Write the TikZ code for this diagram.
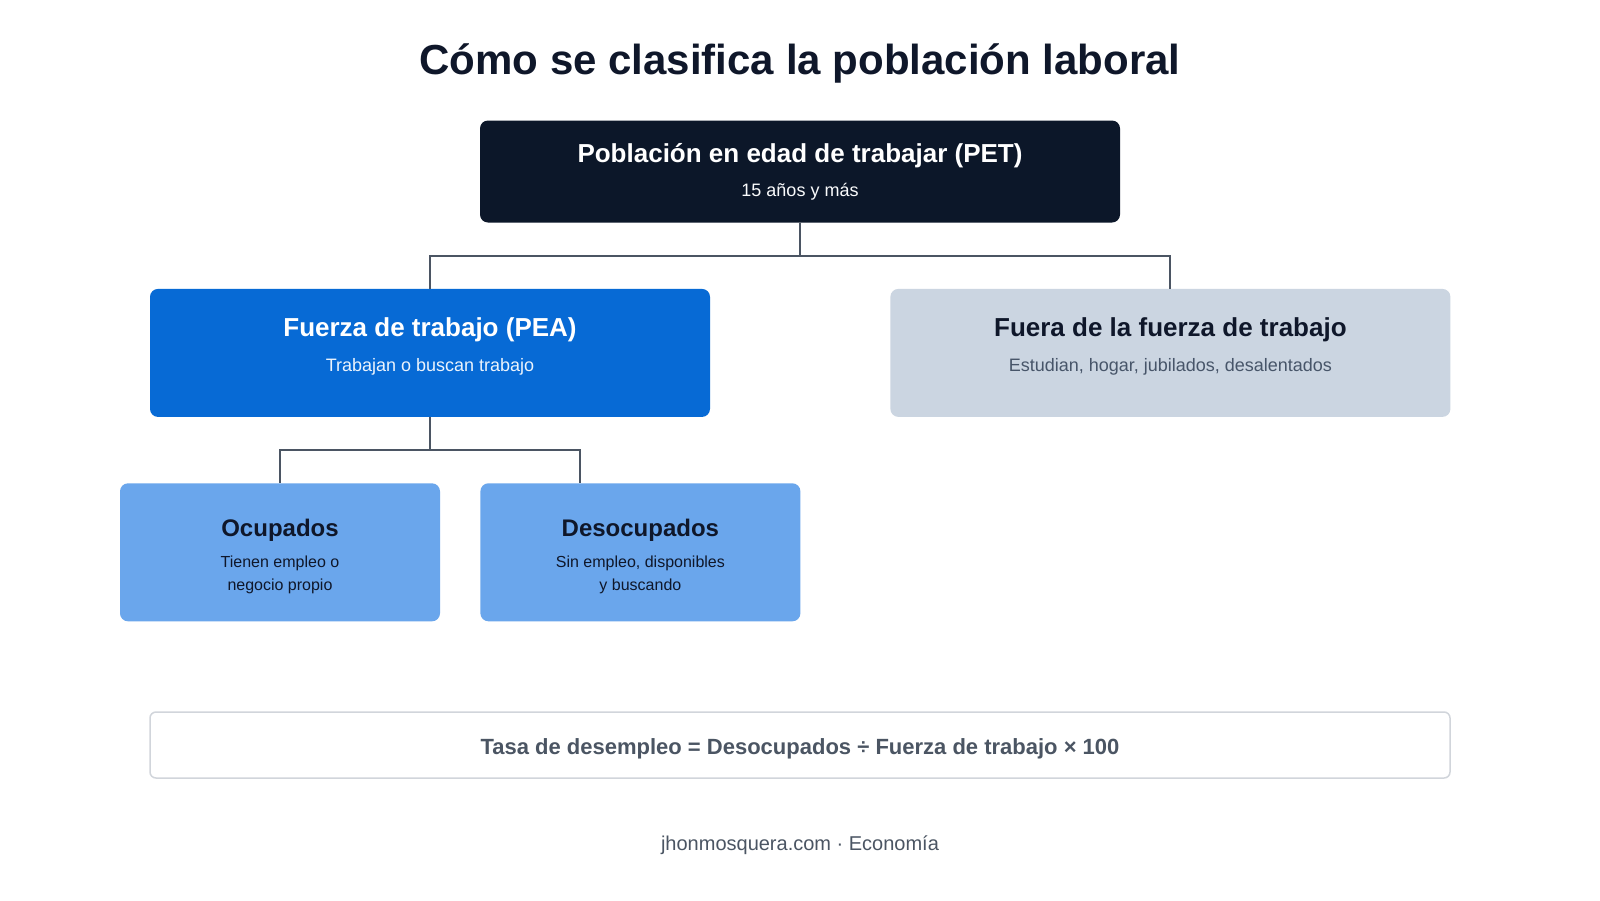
\documentclass[tikz,border=0pt]{standalone}
\usepackage{fontspec}
\setmainfont{Liberation Sans}
\usetikzlibrary{positioning}

\definecolor{ink}{RGB}{15,23,42}
\definecolor{navy}{RGB}{12,23,41}
\definecolor{peablue}{RGB}{7,106,213}
\definecolor{lightblue}{RGB}{106,166,236}
\definecolor{slatebox}{RGB}{203,213,225}
\definecolor{linkgray}{RGB}{75,85,99}
\definecolor{subgray}{RGB}{71,85,105}
\definecolor{bordergray}{RGB}{209,213,219}

\begin{document}
\begin{tikzpicture}[
      x=1pt, y=-1pt,
      every node/.style={inner sep=0pt},
      petbox/.style={rounded corners=8pt, minimum width=640pt, minimum height=102pt, fill=navy},
      peabox/.style={rounded corners=8pt, minimum width=560pt, minimum height=128pt, fill=peablue},
      outbox/.style={rounded corners=8pt, minimum width=560pt, minimum height=128pt, fill=slatebox},
      leafbox/.style={rounded corners=8pt, minimum width=320pt, minimum height=138pt, fill=lightblue},
      boxhead/.style={anchor=base, font=\bfseries\fontsize{26}{30}\selectfont},
      boxsub/.style={anchor=base, font=\fontsize{18}{22}\selectfont},
      leafhead/.style={anchor=base, font=\bfseries\fontsize{24}{28}\selectfont, text=ink},
      leafsub/.style={align=center, font=\fontsize{16}{23}\selectfont, text=ink},
      link/.style={draw=linkgray, line width=2pt},
    ]
    \fill[white] (0,0) rectangle (1600,900);

    % Title
    \node[anchor=base, font=\bfseries\fontsize{42}{48}\selectfont, text=ink] (title) at (800,74) {Cómo se clasifica la población laboral};

    % Boxes
    \node[petbox] (pet) at (800,171.5) {};
    \node[peabox, below=66pt of pet, xshift=-370pt] (pea) {};
    \node[outbox, right=180pt of pea] (fuera) {};
    \node[leafbox, below=66pt of pea, xshift=-150pt] (ocup) {};
    \node[leafbox, right=40pt of ocup] (desoc) {};
    \coordinate (desocin) at ([xshift=-60pt]desoc.north);

    % Box texts
    \node[boxhead, text=white] (petT) at ([yshift=-42.5pt]pet.north) {Población en edad de trabajar (PET)};
    \node[boxsub, text=white!90!slatebox] (petS) at ([yshift=-76pt]pet.north) {15 años y más};
    \node[boxhead, text=white] (peaT) at ([yshift=-48pt]pea.north) {Fuerza de trabajo (PEA)};
    \node[boxsub, text=white!92!peablue] (peaS) at ([yshift=-83pt]pea.north) {Trabajan o buscan trabajo};
    \node[boxhead, text=ink] (fueraT) at ([yshift=-48pt]fuera.north) {Fuera de la fuerza de trabajo};
    \node[boxsub, text=subgray] (fueraS) at ([yshift=-83pt]fuera.north) {Estudian, hogar, jubilados, desalentados};
    \node[leafhead] (ocupT) at ([yshift=-53pt]ocup.north) {Ocupados};
    \node[leafsub] (ocupS) at ([yshift=-91.5pt]ocup.north) {Tienen empleo o\\negocio propio};
    \node[leafhead] (desocT) at ([yshift=-53pt]desoc.north) {Desocupados};
    \node[leafsub] (desocS) at ([yshift=-91.5pt]desoc.north) {Sin empleo, disponibles\\y buscando};

    % Connectors
    \draw[link] (pet.south) -- ++(0,33) -| (pea.north);
    \draw[link] (pet.south) -- ++(0,33) -| (fuera.north);
    \draw[link] (pea.south) -- ++(0,33) -| (ocup.north);
    \draw[link] (pea.south) -- ++(0,33) -| (desocin);

    % Formula and footer
    \node[draw=bordergray, line width=1.5pt, rounded corners=6pt, minimum width=1300pt, minimum height=66pt, fill=white,
          text height=18pt, text depth=0pt,
          font=\bfseries\fontsize{22}{26}\selectfont, text=linkgray] (tasa) at (800,745)
          {Tasa de desempleo = Desocupados ÷ Fuerza de trabajo × 100};
    \node[anchor=base, font=\fontsize{20}{24}\selectfont, text=linkgray] (foot) at (800,850) {jhonmosquera.com · Economía};
  \end{tikzpicture}
\end{document}
